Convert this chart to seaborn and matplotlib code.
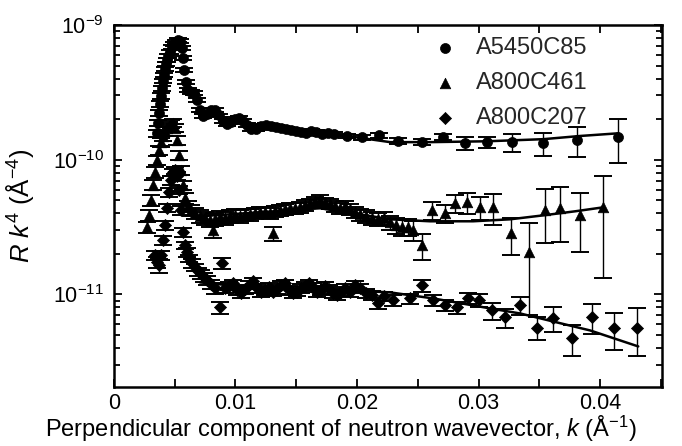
import numpy as np
import pandas as pd
import seaborn as sns
import matplotlib
matplotlib.use('Agg')
import matplotlib.pyplot as plt
from matplotlib import ticker

# k in units of 1e-3 A^-1, R k^4 in the unit noted per series
circ_k = [3.54, 3.62, 3.70, 3.79, 3.87, 3.95, 4.03, 4.12, 4.20, 4.28,
          4.36, 4.44, 4.61, 4.77, 4.94, 5.10, 5.27, 5.43, 5.60, 5.68,
          5.76, 5.93, 6.09, 6.34, 6.58, 6.83, 7.08, 7.33, 7.65, 7.98,
          8.31, 8.64, 8.97, 9.30, 9.63, 9.96, 10.29, 10.62, 10.95, 11.28,
          11.69, 12.10, 12.51, 12.92, 13.33, 13.74, 14.16, 14.57, 14.98, 15.39,
          15.80, 16.21, 16.63, 17.12, 17.61, 18.11, 19.18, 20.41, 21.81, 23.37,
          25.35, 27.08, 28.89, 30.70, 32.76, 35.31, 38.11, 41.48]
# units of 1e-10
circ_R = [1.57, 1.87, 2.22, 2.59, 2.96, 3.40, 3.84, 4.25, 4.71, 5.13,
          5.49, 5.89, 6.30, 6.86, 7.23, 7.48, 7.73, 7.60, 6.74, 5.69,
          4.63, 3.77, 3.29, 3.18, 3.12, 2.77, 2.33, 2.10, 2.18, 2.33,
          2.33, 2.14, 1.93, 1.84, 1.90, 2.00, 2.04, 1.93, 1.81, 1.69,
          1.69, 1.78, 1.81, 1.78, 1.75, 1.72, 1.69, 1.66, 1.63, 1.60,
          1.57, 1.63, 1.60, 1.55, 1.57, 1.55, 1.50, 1.47, 1.52, 1.37,
          1.35, 1.47, 1.33, 1.35, 1.35, 1.33, 1.40, 1.47]
circ_err = [0.10, 0.10, 0.12, 0.12, 0.14, 0.15, 0.16, 0.17, 0.18, 0.19,
            0.20, 0.21, 0.22, 0.22, 0.23, 0.23, 0.24, 0.24, 0.22, 0.20,
            0.17, 0.14, 0.12, 0.11, 0.10, 0.09, 0.08, 0.07, 0.07, 0.07,
            0.07, 0.06, 0.06, 0.06, 0.06, 0.06, 0.06, 0.06, 0.05, 0.05,
            0.05, 0.05, 0.05, 0.05, 0.05, 0.05, 0.05, 0.05, 0.05, 0.05,
            0.05, 0.05, 0.05, 0.05, 0.05, 0.05, 0.05, 0.06, 0.06, 0.07,
            0.07, 0.08, 0.14, 0.13, 0.20, 0.26, 0.35, 0.53]

tri_k = [2.716, 2.881, 3.045, 3.210, 3.374, 3.539, 3.704, 3.868, 4.033, 4.198,
         4.362, 4.527, 4.691, 4.856, 5.021, 5.185, 5.350, 5.514, 5.679, 5.844,
         6.091, 6.337, 6.667, 7.078, 7.490, 7.901, 8.148, 8.313, 8.724, 9.136,
         9.547, 9.959, 10.370, 10.782, 11.193, 11.605, 12.016, 12.428, 12.840, 13.086,
         13.251, 13.663, 14.074, 14.486, 14.897, 15.309, 15.720, 16.132, 16.543, 16.955,
         17.366, 17.778, 18.189, 18.601, 19.012, 19.424, 19.835, 20.247, 20.741, 21.235,
         21.728, 22.222, 22.716, 23.210, 23.704, 24.198, 24.609, 25.350, 26.173, 27.243,
         28.066, 29.053, 30.123, 31.193, 32.675, 34.156, 35.473, 36.708, 38.354, 40.247]
# units of 1e-11
tri_R = [3.15, 3.87, 5.00, 6.46, 8.07, 9.91, 11.77, 13.49, 14.95, 16.29,
         17.15, 17.74, 18.36, 18.68, 17.15, 13.96, 10.80, 8.36, 6.46, 5.17,
         4.51, 4.21, 4.00, 3.80, 3.67, 3.55, 2.99, 3.61, 3.74, 3.67,
         3.80, 3.87, 3.80, 3.93, 3.93, 4.00, 4.07, 4.07, 4.00, 2.84,
         4.14, 4.21, 4.29, 4.36, 4.36, 4.43, 4.59, 4.75, 4.91, 5.00,
         4.83, 4.67, 4.51, 4.36, 4.51, 4.29, 4.07, 3.93, 3.80, 3.67,
         3.61, 3.67, 3.43, 3.26, 3.15, 3.15, 2.99, 2.31, 4.21, 4.00,
         4.75, 4.83, 4.43, 4.43, 2.84, 2.05, 4.21, 4.36, 3.87, 4.43]
tri_err = [0.3, 0.35, 0.45, 0.55, 0.7, 0.8, 0.9, 1.0, 1.1, 1.2,
           1.2, 1.3, 1.3, 1.3, 1.2, 1.0, 0.8, 0.65, 0.5, 0.45,
           0.4, 0.4, 0.4, 0.4, 0.4, 0.4, 0.35, 0.4, 0.4, 0.4,
           0.4, 0.4, 0.4, 0.4, 0.4, 0.4, 0.4, 0.4, 0.4, 0.35,
           0.4, 0.4, 0.4, 0.4, 0.4, 0.4, 0.4, 0.4, 0.4, 0.45,
           0.4, 0.4, 0.4, 0.4, 0.4, 0.4, 0.4, 0.4, 0.4, 0.4,
           0.4, 0.4, 0.4, 0.45, 0.45, 0.45, 0.5, 0.5, 0.65, 0.62,
           0.75, 0.85, 0.85, 1.15, 0.87, 1.35, 1.8, 1.9, 1.8, 3.1]

dia_k = [3.374, 3.539, 3.704, 3.868, 4.033, 4.198, 4.362, 4.527, 4.691, 4.856,
         5.021, 5.185, 5.350, 5.514, 5.679, 5.844, 6.008, 6.173, 6.420, 6.667,
         6.914, 7.160, 7.407, 7.654, 7.984, 8.313, 8.724, 8.889, 9.136, 9.465,
         9.794, 10.123, 10.453, 10.782, 11.111, 11.440, 11.770, 12.099, 12.428, 12.757,
         13.086, 13.416, 13.745, 14.074, 14.403, 14.733, 15.062, 15.391, 15.720, 16.049,
         16.379, 16.708, 17.037, 17.366, 17.695, 18.025, 18.354, 18.683, 19.012, 19.424,
         19.835, 20.247, 20.741, 21.235, 21.728, 22.222, 22.963, 24.362, 25.350, 26.255,
         27.243, 28.230, 29.136, 30.041, 31.111, 32.181, 33.416, 34.815, 36.132, 37.695,
         39.342, 41.152, 43.045]
# units of 1e-11
dia_R = [1.95, 1.73, 1.64, 1.95, 2.52, 3.26, 4.36, 5.73, 7.04, 8.07,
         8.36, 7.54, 5.93, 4.21, 2.89, 2.31, 2.05, 1.85, 1.70, 1.59,
         1.48, 1.41, 1.34, 1.27, 1.19, 1.11, 0.80, 1.70, 1.11, 1.15,
         1.21, 1.07, 1.02, 1.09, 1.17, 1.25, 1.11, 1.035, 1.07, 1.13,
         1.05, 1.09, 1.17, 1.21, 1.07, 1.02, 1.05, 1.11, 1.15, 1.21,
         1.13, 1.035, 1.07, 1.15, 1.09, 1.02, 0.983, 1.05, 1.11, 1.035,
         1.17, 1.11, 1.02, 0.983, 0.857, 0.966, 0.903, 0.934, 1.17, 0.903,
         0.829, 0.800, 0.934, 0.903, 0.760, 0.675, 0.829, 0.568, 0.663, 0.471,
         0.675, 0.559, 0.568]
dia_err = [0.15, 0.15, 0.2, 0.15, 0.2, 0.25, 0.3, 0.4, 0.5, 0.5,
           0.5, 0.5, 0.4, 0.3, 0.2, 0.15, 0.15, 0.12, 0.12, 0.1,
           0.1, 0.1, 0.1, 0.1, 0.1, 0.1, 0.08, 0.15, 0.08, 0.08,
           0.08, 0.08, 0.08, 0.08, 0.08, 0.08, 0.08, 0.08, 0.08, 0.08,
           0.08, 0.08, 0.08, 0.08, 0.08, 0.08, 0.08, 0.08, 0.08, 0.08,
           0.08, 0.08, 0.08, 0.08, 0.08, 0.08, 0.08, 0.08, 0.08, 0.08,
           0.08, 0.08, 0.08, 0.08, 0.08, 0.08, 0.08, 0.08, 0.12, 0.08,
           0.08, 0.08, 0.09, 0.10, 0.11, 0.11, 0.12, 0.11, 0.14, 0.12,
           0.17, 0.17, 0.22]

# model fits
circ_fit_k = [11.193, 15.309, 19.177, 22.716, 26.008, 30.700, 35.309, 38.354, 41.481]
circ_fit_R = [1.715, 1.60, 1.50, 1.35, 1.35, 1.37, 1.42, 1.50, 1.57]          # 1e-10
tri_fit_k = [7.078, 12.016, 16.955, 20.247, 22.716, 26.008, 29.547, 32.593, 35.391, 37.942, 40.247]
tri_fit_R = [3.80, 4.07, 4.36, 3.93, 3.61, 3.49, 3.49, 3.61, 3.87, 4.14, 4.43]  # 1e-11
dia_fit_k = [7.078, 11.193, 15.309, 19.424, 22.716, 26.255, 30.947, 33.416, 36.461, 39.177, 43.128]
dia_fit_R = [1.228, 1.128, 1.089, 1.07, 1.035, 0.934, 0.787, 0.722, 0.619, 0.540, 0.411]  # 1e-11

samples = ['A5450C85', 'A800C461', 'A800C207']

sns.set_theme(style='ticks')
plt.rcParams['font.family'] = ['Liberation Sans', 'DejaVu Sans']
plt.rcParams['mathtext.fontset'] = 'custom'
plt.rcParams['mathtext.rm'] = 'Liberation Sans'
plt.rcParams['mathtext.it'] = 'Liberation Sans:italic'
plt.rcParams['mathtext.default'] = 'regular'

series = [
    (samples[0], circ_k, circ_R, circ_err, 1e-10, 'o', 52, circ_fit_k, circ_fit_R),
    (samples[1], tri_k, tri_R, tri_err, 1e-11, '^', 58, tri_fit_k, tri_fit_R),
    (samples[2], dia_k, dia_R, dia_err, 1e-11, 'D', 38, dia_fit_k, dia_fit_R),
]

fig = plt.figure(figsize=(6.82, 4.46), dpi=100)
ax = fig.add_axes([0.167, 0.132, 0.804, 0.812])

for name, k, R, err, unit, mk, size, fk, fR in series:
    df = pd.DataFrame({'k': np.array(k) * 1e-3, 'R': np.array(R) * unit,
                       'err': np.array(err) * unit})
    ax.errorbar(df['k'], df['R'], yerr=df['err'], fmt='none', ecolor='black',
                elinewidth=1.0, capsize=6.5, capthick=1.4, zorder=2)
    sns.scatterplot(data=df, x='k', y='R', marker=mk, s=size, color='black',
                    edgecolor='black', linewidth=0.5, label=name, ax=ax, zorder=3)
    fit = pd.DataFrame({'k': np.array(fk) * 1e-3, 'R': np.array(fR) * unit})
    sns.lineplot(data=fit, x='k', y='R', color='black', lw=1.8, ax=ax, zorder=4)

ax.set_yscale('log')
ax.set_xlim(0, 0.0451)
ax.set_ylim(2.05e-12, 1e-9)
ax.xaxis.set_major_locator(ticker.MultipleLocator(0.01))
ax.xaxis.set_minor_locator(ticker.MultipleLocator(0.005))
ax.xaxis.set_major_formatter(ticker.FuncFormatter(lambda v, p: '0' if v == 0 else f'{v:g}'))
ax.yaxis.set_minor_formatter(ticker.NullFormatter())
ax.tick_params(which='both', direction='in', top=True, right=True, width=1.3,
               labelsize=15.5, colors='black')
ax.tick_params(which='major', length=6, pad=7)
ax.tick_params(axis='x', which='major', pad=4)
ax.tick_params(axis='x', which='minor', length=6)
ax.tick_params(axis='y', which='minor', length=4)
for sp in ax.spines.values():
    sp.set_linewidth(1.8)
    sp.set_color('black')

ax.set_xlabel(r'Perpendicular component of neutron wavevector, $\mathit{k}$ (Å$^{-1}$)',
              fontsize=17, color='black')
ax.xaxis.set_label_coords(0.414, -0.073)
ax.set_ylabel(r'$\mathit{R\ k}^{4}$ (Å$^{-4}$)', fontsize=18.5, color='black')
ax.yaxis.set_label_coords(-0.142, 0.5)

ax.legend(loc='upper right', bbox_to_anchor=(0.885, 1.0), frameon=False, fontsize=17,
          handlelength=1.0, handletextpad=0.8, labelspacing=0.55, borderaxespad=0.1)

fig.savefig('out.png', dpi=100)
